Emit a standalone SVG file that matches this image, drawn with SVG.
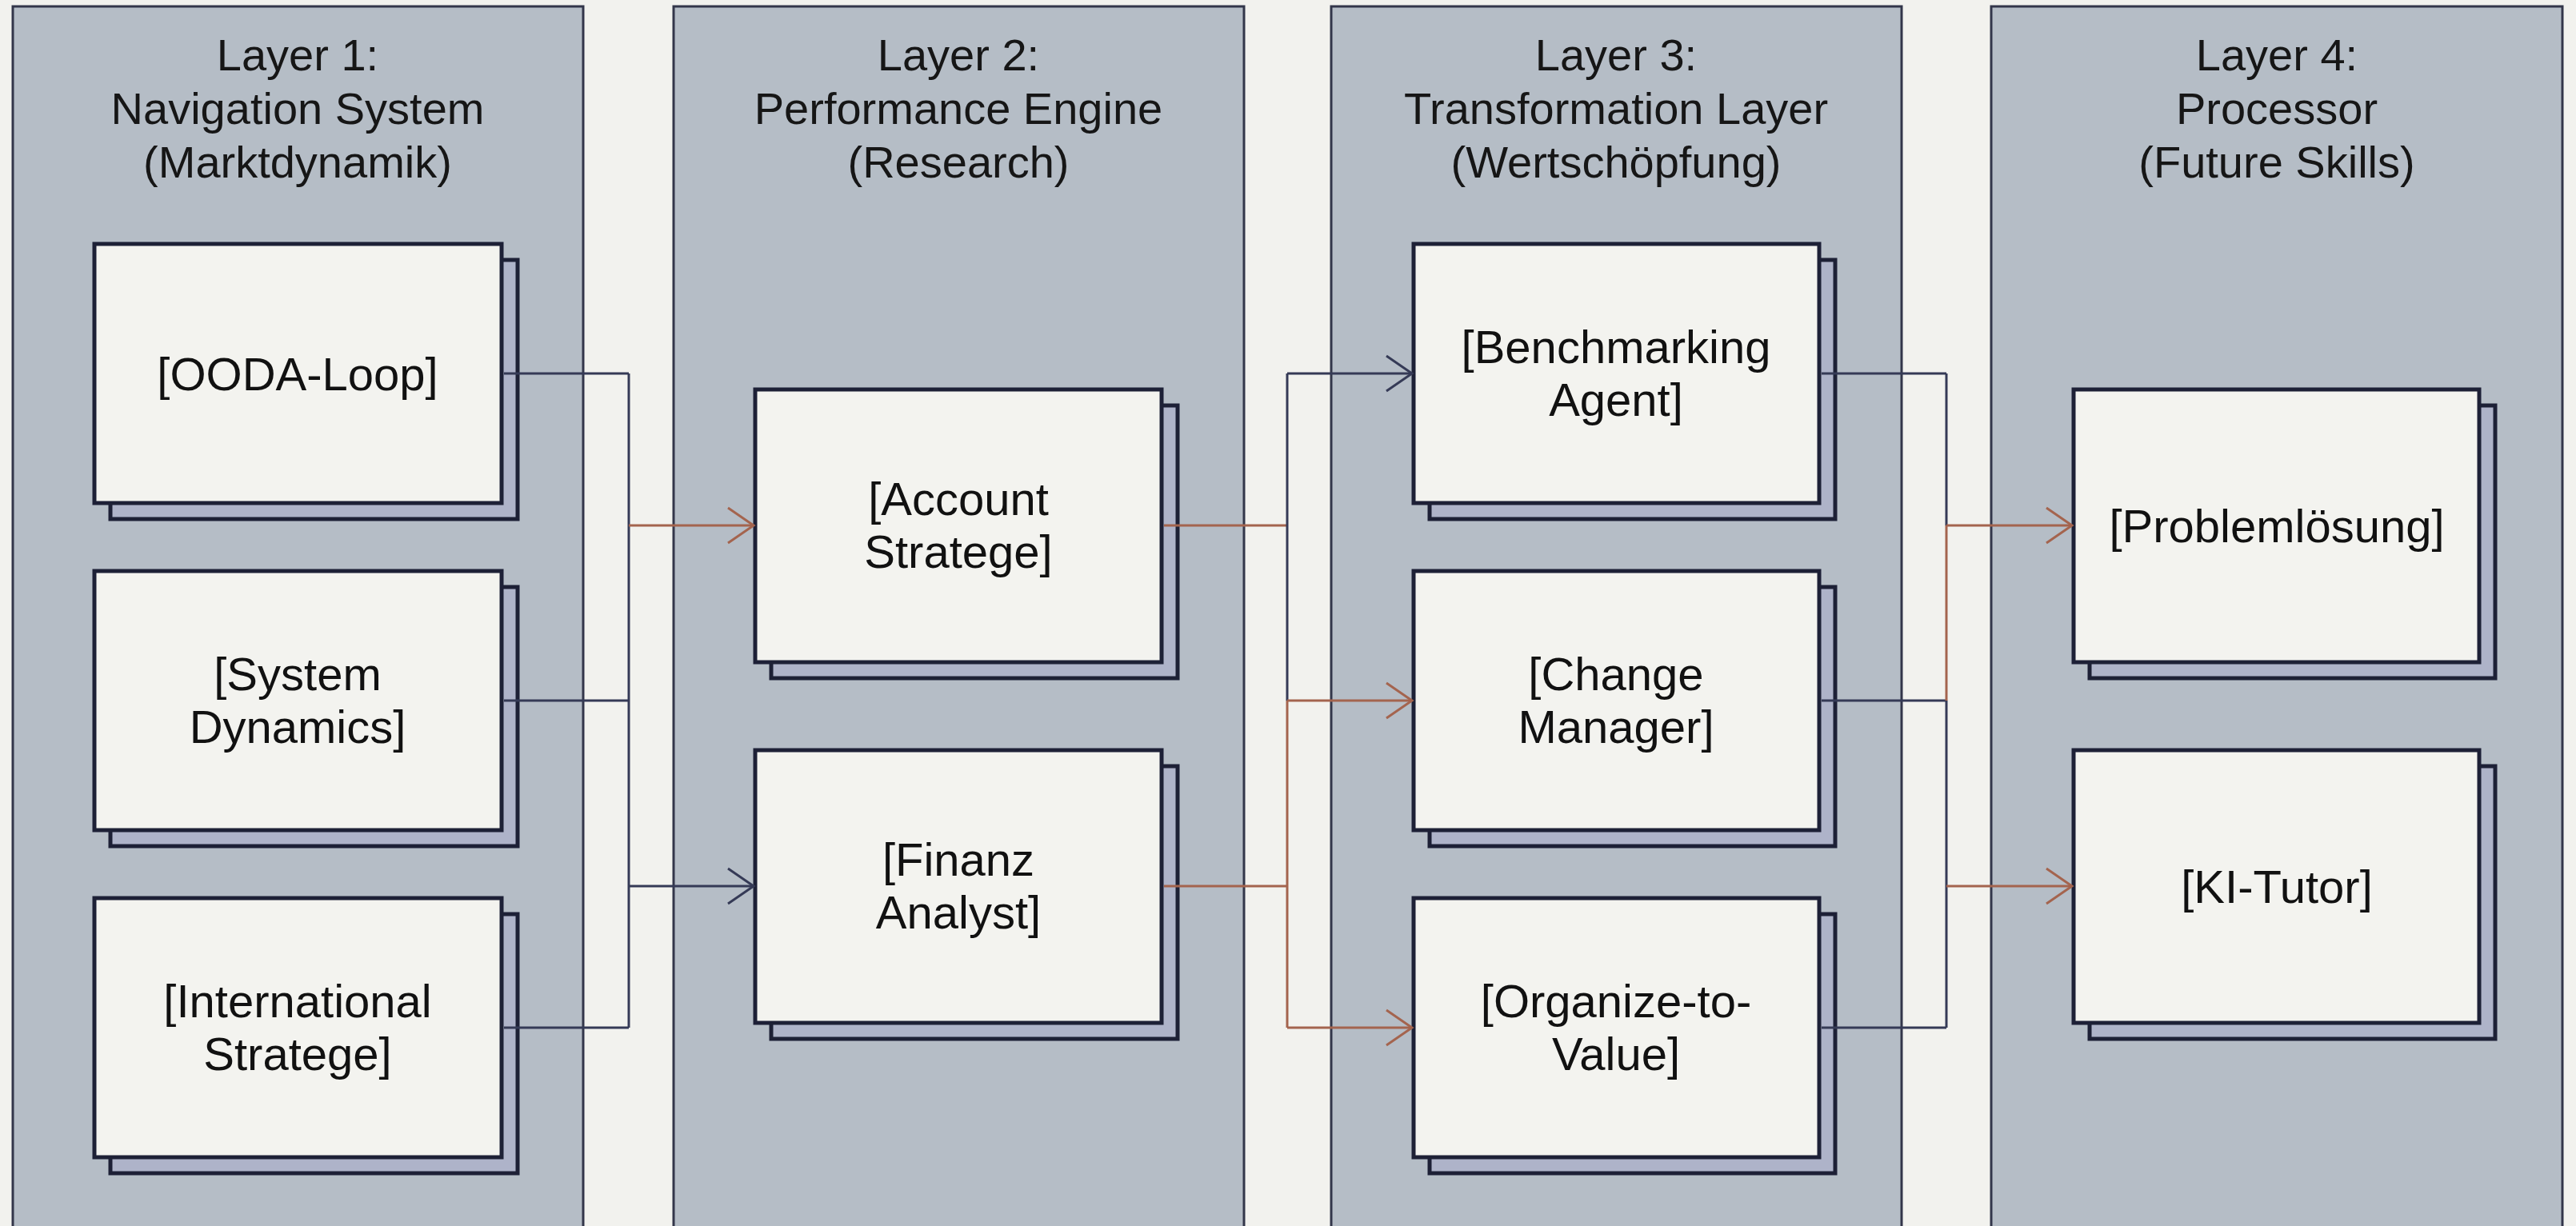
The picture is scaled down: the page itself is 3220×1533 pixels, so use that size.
<svg xmlns="http://www.w3.org/2000/svg" width="3220" height="1533" viewBox="0 0 3220 1533">
<defs>
<style>
.panel{fill:#b5bdc6;stroke:#33364a;stroke-width:3}
.shadow{fill:#aeb3c9;stroke:#1d2036;stroke-width:5}
.box{fill:#f3f3ef;stroke:#1d2036;stroke-width:5}
.title{font-family:"Liberation Sans",Arial,sans-serif;font-size:56px;fill:#161616;text-anchor:middle}
.label{font-family:"Liberation Sans",Arial,sans-serif;font-size:58px;fill:#111111;text-anchor:middle}
.dk{fill:none;stroke:#353a56;stroke-width:3}
.rd{fill:none;stroke:#a4644e;stroke-width:3}
</style>
<marker id="ah-dk" markerUnits="userSpaceOnUse" markerWidth="40" markerHeight="50" viewBox="-36 -25 40 50" refX="0" refY="0" orient="auto">
<path d="M -32 -22 L 0 0 L -32 22" fill="none" stroke="#353a56" stroke-width="3"/>
</marker>
<marker id="ah-rd" markerUnits="userSpaceOnUse" markerWidth="40" markerHeight="50" viewBox="-36 -25 40 50" refX="0" refY="0" orient="auto">
<path d="M -32 -22 L 0 0 L -32 22" fill="none" stroke="#a4644e" stroke-width="3"/>
</marker>
</defs>
<rect x="0" y="0" width="3220" height="1533" fill="#f2f2ee"/>

<g id="panel-layer1">
<rect class="panel" x="16" y="8" width="713" height="1560"/>
<text class="title" x="372" y="88">Layer 1:</text>
<text class="title" x="372" y="155">Navigation System</text>
<text class="title" x="372" y="222">(Marktdynamik)</text>
</g>
<g id="panel-layer2">
<rect class="panel" x="842" y="8" width="713" height="1560"/>
<text class="title" x="1198" y="88">Layer 2:</text>
<text class="title" x="1198" y="155">Performance Engine</text>
<text class="title" x="1198" y="222">(Research)</text>
</g>
<g id="panel-layer3">
<rect class="panel" x="1664" y="8" width="713" height="1560"/>
<text class="title" x="2020" y="88">Layer 3:</text>
<text class="title" x="2020" y="155">Transformation Layer</text>
<text class="title" x="2020" y="222">(Wertschöpfung)</text>
</g>
<g id="panel-layer4">
<rect class="panel" x="2489" y="8" width="714" height="1560"/>
<text class="title" x="2846" y="88">Layer 4:</text>
<text class="title" x="2846" y="155">Processor</text>
<text class="title" x="2846" y="222">(Future Skills)</text>
</g>

<g id="node-ooda">
<rect class="shadow" x="138" y="325" width="509" height="324"/>
<rect class="box" x="118" y="305" width="509" height="324"/>
<text class="label" x="372" y="488">[OODA-Loop]</text>
</g>
<g id="node-system-dynamics">
<rect class="shadow" x="138" y="734" width="509" height="324"/>
<rect class="box" x="118" y="714" width="509" height="324"/>
<text class="label" x="372" y="863">[System</text>
<text class="label" x="372" y="929">Dynamics]</text>
</g>
<g id="node-international">
<rect class="shadow" x="138" y="1143" width="509" height="324"/>
<rect class="box" x="118" y="1123" width="509" height="324"/>
<text class="label" x="372" y="1272">[International</text>
<text class="label" x="372" y="1338">Stratege]</text>
</g>

<g id="node-account">
<rect class="shadow" x="964" y="507" width="508" height="341"/>
<rect class="box" x="944" y="487" width="508" height="341"/>
<text class="label" x="1198" y="644">[Account</text>
<text class="label" x="1198" y="710">Stratege]</text>
</g>
<g id="node-finanz">
<rect class="shadow" x="964" y="958" width="508" height="341"/>
<rect class="box" x="944" y="938" width="508" height="341"/>
<text class="label" x="1198" y="1095">[Finanz</text>
<text class="label" x="1198" y="1161">Analyst]</text>
</g>

<g id="node-benchmarking">
<rect class="shadow" x="1787" y="325" width="507" height="324"/>
<rect class="box" x="1767" y="305" width="507" height="324"/>
<text class="label" x="2020" y="454">[Benchmarking</text>
<text class="label" x="2020" y="520">Agent]</text>
</g>
<g id="node-change">
<rect class="shadow" x="1787" y="734" width="507" height="324"/>
<rect class="box" x="1767" y="714" width="507" height="324"/>
<text class="label" x="2020" y="863">[Change</text>
<text class="label" x="2020" y="929">Manager]</text>
</g>
<g id="node-organize">
<rect class="shadow" x="1787" y="1143" width="507" height="324"/>
<rect class="box" x="1767" y="1123" width="507" height="324"/>
<text class="label" x="2020" y="1272">[Organize-to-</text>
<text class="label" x="2020" y="1338">Value]</text>
</g>

<g id="node-problemloesung">
<rect class="shadow" x="2612" y="507" width="507" height="341"/>
<rect class="box" x="2592" y="487" width="507" height="341"/>
<text class="label" x="2846" y="678">[Problemlösung]</text>
</g>
<g id="node-ki-tutor">
<rect class="shadow" x="2612" y="958" width="507" height="341"/>
<rect class="box" x="2592" y="938" width="507" height="341"/>
<text class="label" x="2846" y="1129">[KI-Tutor]</text>
</g>

<g id="connectors">
<!-- Layer 1 -> Layer 2 -->
<path class="dk" d="M 630 467 H 786"/>
<path class="dk" d="M 630 876 H 786"/>
<path class="dk" d="M 630 1285 H 786"/>
<path class="dk" d="M 786 467 V 1285"/>
<path class="rd" d="M 786 657 H 942" marker-end="url(#ah-rd)"/>
<path class="dk" d="M 786 1108 H 942" marker-end="url(#ah-dk)"/>
<!-- Layer 2 -> Layer 3 -->
<path class="rd" d="M 1455 657 H 1609"/>
<path class="rd" d="M 1455 1108 H 1609"/>
<path class="dk" d="M 1609 467 V 876"/>
<path class="rd" d="M 1609 876 V 1285"/>
<path class="dk" d="M 1609 467 H 1765" marker-end="url(#ah-dk)"/>
<path class="rd" d="M 1609 876 H 1765" marker-end="url(#ah-rd)"/>
<path class="rd" d="M 1609 1285 H 1765" marker-end="url(#ah-rd)"/>
<!-- Layer 3 -> Layer 4 -->
<path class="dk" d="M 2277 467 H 2433"/>
<path class="dk" d="M 2277 876 H 2433"/>
<path class="dk" d="M 2277 1285 H 2433"/>
<path class="dk" d="M 2433 467 V 657"/>
<path class="rd" d="M 2433 657 V 876"/>
<path class="dk" d="M 2433 876 V 1285"/>
<path class="rd" d="M 2433 657 H 2590" marker-end="url(#ah-rd)"/>
<path class="rd" d="M 2433 1108 H 2590" marker-end="url(#ah-rd)"/>
</g>
</svg>
